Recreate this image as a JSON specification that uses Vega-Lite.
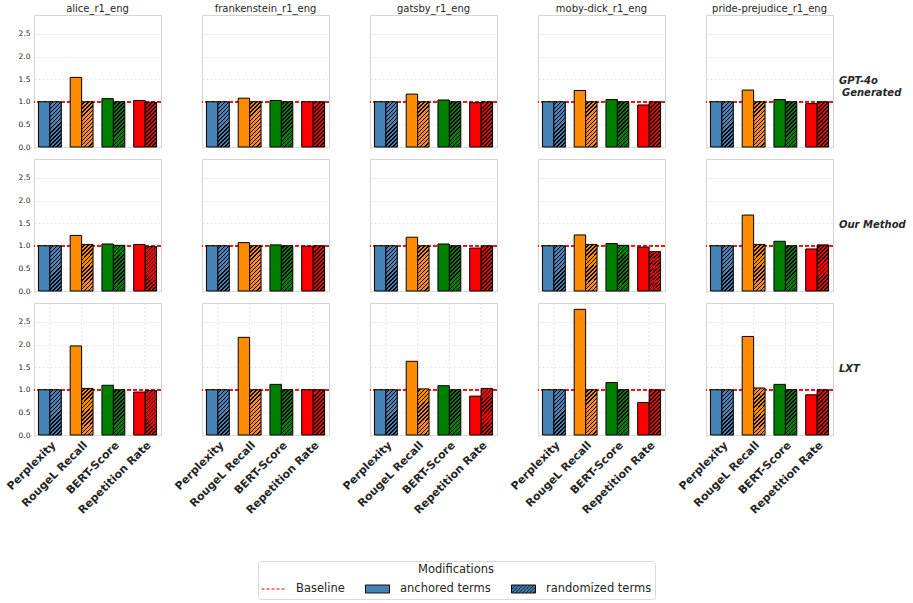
{
  "$schema": "https://vega.github.io/schema/vega-lite/v6.json",
  "padding": {"left": 4, "top": 3, "right": 5, "bottom": 3},
  "config": {
    "font": "DejaVu Sans",
    "view": {"stroke": "#d4d4d4", "strokeWidth": 1},
    "axis": {"labelColor": "#262626"},
    "axisY": {"tickCount": 6, "labelOverlap": false},
    "legend": {"symbolStrokeWidth": 1}
  },
  "data": {"values": [
    {"method": "GPT-4o Generated", "book": "alice_r1_eng", "metric": "Perplexity", "mod": "anchored terms", "value": 1.0},
    {"method": "GPT-4o Generated", "book": "alice_r1_eng", "metric": "Perplexity", "mod": "randomized terms", "value": 1.0},
    {"method": "GPT-4o Generated", "book": "alice_r1_eng", "metric": "RougeL Recall", "mod": "anchored terms", "value": 1.54},
    {"method": "GPT-4o Generated", "book": "alice_r1_eng", "metric": "RougeL Recall", "mod": "randomized terms", "value": 1.0},
    {"method": "GPT-4o Generated", "book": "alice_r1_eng", "metric": "BERT-Score", "mod": "anchored terms", "value": 1.07},
    {"method": "GPT-4o Generated", "book": "alice_r1_eng", "metric": "BERT-Score", "mod": "randomized terms", "value": 1.0},
    {"method": "GPT-4o Generated", "book": "alice_r1_eng", "metric": "Repetition Rate", "mod": "anchored terms", "value": 1.03},
    {"method": "GPT-4o Generated", "book": "alice_r1_eng", "metric": "Repetition Rate", "mod": "randomized terms", "value": 0.99},
    {"method": "GPT-4o Generated", "book": "frankenstein_r1_eng", "metric": "Perplexity", "mod": "anchored terms", "value": 1.0},
    {"method": "GPT-4o Generated", "book": "frankenstein_r1_eng", "metric": "Perplexity", "mod": "randomized terms", "value": 1.0},
    {"method": "GPT-4o Generated", "book": "frankenstein_r1_eng", "metric": "RougeL Recall", "mod": "anchored terms", "value": 1.08},
    {"method": "GPT-4o Generated", "book": "frankenstein_r1_eng", "metric": "RougeL Recall", "mod": "randomized terms", "value": 1.0},
    {"method": "GPT-4o Generated", "book": "frankenstein_r1_eng", "metric": "BERT-Score", "mod": "anchored terms", "value": 1.03},
    {"method": "GPT-4o Generated", "book": "frankenstein_r1_eng", "metric": "BERT-Score", "mod": "randomized terms", "value": 1.0},
    {"method": "GPT-4o Generated", "book": "frankenstein_r1_eng", "metric": "Repetition Rate", "mod": "anchored terms", "value": 1.0},
    {"method": "GPT-4o Generated", "book": "frankenstein_r1_eng", "metric": "Repetition Rate", "mod": "randomized terms", "value": 1.0},
    {"method": "GPT-4o Generated", "book": "gatsby_r1_eng", "metric": "Perplexity", "mod": "anchored terms", "value": 1.0},
    {"method": "GPT-4o Generated", "book": "gatsby_r1_eng", "metric": "Perplexity", "mod": "randomized terms", "value": 1.0},
    {"method": "GPT-4o Generated", "book": "gatsby_r1_eng", "metric": "RougeL Recall", "mod": "anchored terms", "value": 1.17},
    {"method": "GPT-4o Generated", "book": "gatsby_r1_eng", "metric": "RougeL Recall", "mod": "randomized terms", "value": 1.0},
    {"method": "GPT-4o Generated", "book": "gatsby_r1_eng", "metric": "BERT-Score", "mod": "anchored terms", "value": 1.04},
    {"method": "GPT-4o Generated", "book": "gatsby_r1_eng", "metric": "BERT-Score", "mod": "randomized terms", "value": 1.0},
    {"method": "GPT-4o Generated", "book": "gatsby_r1_eng", "metric": "Repetition Rate", "mod": "anchored terms", "value": 0.98},
    {"method": "GPT-4o Generated", "book": "gatsby_r1_eng", "metric": "Repetition Rate", "mod": "randomized terms", "value": 1.0},
    {"method": "GPT-4o Generated", "book": "moby-dick_r1_eng", "metric": "Perplexity", "mod": "anchored terms", "value": 1.0},
    {"method": "GPT-4o Generated", "book": "moby-dick_r1_eng", "metric": "Perplexity", "mod": "randomized terms", "value": 1.0},
    {"method": "GPT-4o Generated", "book": "moby-dick_r1_eng", "metric": "RougeL Recall", "mod": "anchored terms", "value": 1.25},
    {"method": "GPT-4o Generated", "book": "moby-dick_r1_eng", "metric": "RougeL Recall", "mod": "randomized terms", "value": 1.0},
    {"method": "GPT-4o Generated", "book": "moby-dick_r1_eng", "metric": "BERT-Score", "mod": "anchored terms", "value": 1.05},
    {"method": "GPT-4o Generated", "book": "moby-dick_r1_eng", "metric": "BERT-Score", "mod": "randomized terms", "value": 1.0},
    {"method": "GPT-4o Generated", "book": "moby-dick_r1_eng", "metric": "Repetition Rate", "mod": "anchored terms", "value": 0.93},
    {"method": "GPT-4o Generated", "book": "moby-dick_r1_eng", "metric": "Repetition Rate", "mod": "randomized terms", "value": 1.0},
    {"method": "GPT-4o Generated", "book": "pride-prejudice_r1_eng", "metric": "Perplexity", "mod": "anchored terms", "value": 1.0},
    {"method": "GPT-4o Generated", "book": "pride-prejudice_r1_eng", "metric": "Perplexity", "mod": "randomized terms", "value": 1.0},
    {"method": "GPT-4o Generated", "book": "pride-prejudice_r1_eng", "metric": "RougeL Recall", "mod": "anchored terms", "value": 1.26},
    {"method": "GPT-4o Generated", "book": "pride-prejudice_r1_eng", "metric": "RougeL Recall", "mod": "randomized terms", "value": 1.0},
    {"method": "GPT-4o Generated", "book": "pride-prejudice_r1_eng", "metric": "BERT-Score", "mod": "anchored terms", "value": 1.05},
    {"method": "GPT-4o Generated", "book": "pride-prejudice_r1_eng", "metric": "BERT-Score", "mod": "randomized terms", "value": 1.0},
    {"method": "GPT-4o Generated", "book": "pride-prejudice_r1_eng", "metric": "Repetition Rate", "mod": "anchored terms", "value": 0.96},
    {"method": "GPT-4o Generated", "book": "pride-prejudice_r1_eng", "metric": "Repetition Rate", "mod": "randomized terms", "value": 1.0},

    {"method": "Our Method", "book": "alice_r1_eng", "metric": "Perplexity", "mod": "anchored terms", "value": 1.0},
    {"method": "Our Method", "book": "alice_r1_eng", "metric": "Perplexity", "mod": "randomized terms", "value": 1.0},
    {"method": "Our Method", "book": "alice_r1_eng", "metric": "RougeL Recall", "mod": "anchored terms", "value": 1.23},
    {"method": "Our Method", "book": "alice_r1_eng", "metric": "RougeL Recall", "mod": "randomized terms", "value": 1.03},
    {"method": "Our Method", "book": "alice_r1_eng", "metric": "BERT-Score", "mod": "anchored terms", "value": 1.04},
    {"method": "Our Method", "book": "alice_r1_eng", "metric": "BERT-Score", "mod": "randomized terms", "value": 1.01},
    {"method": "Our Method", "book": "alice_r1_eng", "metric": "Repetition Rate", "mod": "anchored terms", "value": 1.03},
    {"method": "Our Method", "book": "alice_r1_eng", "metric": "Repetition Rate", "mod": "randomized terms", "value": 0.98},
    {"method": "Our Method", "book": "frankenstein_r1_eng", "metric": "Perplexity", "mod": "anchored terms", "value": 1.0},
    {"method": "Our Method", "book": "frankenstein_r1_eng", "metric": "Perplexity", "mod": "randomized terms", "value": 1.0},
    {"method": "Our Method", "book": "frankenstein_r1_eng", "metric": "RougeL Recall", "mod": "anchored terms", "value": 1.07},
    {"method": "Our Method", "book": "frankenstein_r1_eng", "metric": "RougeL Recall", "mod": "randomized terms", "value": 1.0},
    {"method": "Our Method", "book": "frankenstein_r1_eng", "metric": "BERT-Score", "mod": "anchored terms", "value": 1.02},
    {"method": "Our Method", "book": "frankenstein_r1_eng", "metric": "BERT-Score", "mod": "randomized terms", "value": 1.0},
    {"method": "Our Method", "book": "frankenstein_r1_eng", "metric": "Repetition Rate", "mod": "anchored terms", "value": 0.99},
    {"method": "Our Method", "book": "frankenstein_r1_eng", "metric": "Repetition Rate", "mod": "randomized terms", "value": 1.0},
    {"method": "Our Method", "book": "gatsby_r1_eng", "metric": "Perplexity", "mod": "anchored terms", "value": 1.0},
    {"method": "Our Method", "book": "gatsby_r1_eng", "metric": "Perplexity", "mod": "randomized terms", "value": 1.0},
    {"method": "Our Method", "book": "gatsby_r1_eng", "metric": "RougeL Recall", "mod": "anchored terms", "value": 1.19},
    {"method": "Our Method", "book": "gatsby_r1_eng", "metric": "RougeL Recall", "mod": "randomized terms", "value": 1.0},
    {"method": "Our Method", "book": "gatsby_r1_eng", "metric": "BERT-Score", "mod": "anchored terms", "value": 1.04},
    {"method": "Our Method", "book": "gatsby_r1_eng", "metric": "BERT-Score", "mod": "randomized terms", "value": 1.0},
    {"method": "Our Method", "book": "gatsby_r1_eng", "metric": "Repetition Rate", "mod": "anchored terms", "value": 0.95},
    {"method": "Our Method", "book": "gatsby_r1_eng", "metric": "Repetition Rate", "mod": "randomized terms", "value": 1.0},
    {"method": "Our Method", "book": "moby-dick_r1_eng", "metric": "Perplexity", "mod": "anchored terms", "value": 1.0},
    {"method": "Our Method", "book": "moby-dick_r1_eng", "metric": "Perplexity", "mod": "randomized terms", "value": 1.0},
    {"method": "Our Method", "book": "moby-dick_r1_eng", "metric": "RougeL Recall", "mod": "anchored terms", "value": 1.24},
    {"method": "Our Method", "book": "moby-dick_r1_eng", "metric": "RougeL Recall", "mod": "randomized terms", "value": 1.03},
    {"method": "Our Method", "book": "moby-dick_r1_eng", "metric": "BERT-Score", "mod": "anchored terms", "value": 1.05},
    {"method": "Our Method", "book": "moby-dick_r1_eng", "metric": "BERT-Score", "mod": "randomized terms", "value": 1.01},
    {"method": "Our Method", "book": "moby-dick_r1_eng", "metric": "Repetition Rate", "mod": "anchored terms", "value": 0.97},
    {"method": "Our Method", "book": "moby-dick_r1_eng", "metric": "Repetition Rate", "mod": "randomized terms", "value": 0.87},
    {"method": "Our Method", "book": "pride-prejudice_r1_eng", "metric": "Perplexity", "mod": "anchored terms", "value": 1.0},
    {"method": "Our Method", "book": "pride-prejudice_r1_eng", "metric": "Perplexity", "mod": "randomized terms", "value": 1.0},
    {"method": "Our Method", "book": "pride-prejudice_r1_eng", "metric": "RougeL Recall", "mod": "anchored terms", "value": 1.68},
    {"method": "Our Method", "book": "pride-prejudice_r1_eng", "metric": "RougeL Recall", "mod": "randomized terms", "value": 1.03},
    {"method": "Our Method", "book": "pride-prejudice_r1_eng", "metric": "BERT-Score", "mod": "anchored terms", "value": 1.1},
    {"method": "Our Method", "book": "pride-prejudice_r1_eng", "metric": "BERT-Score", "mod": "randomized terms", "value": 1.0},
    {"method": "Our Method", "book": "pride-prejudice_r1_eng", "metric": "Repetition Rate", "mod": "anchored terms", "value": 0.93},
    {"method": "Our Method", "book": "pride-prejudice_r1_eng", "metric": "Repetition Rate", "mod": "randomized terms", "value": 1.02},

    {"method": "LXT", "book": "alice_r1_eng", "metric": "Perplexity", "mod": "anchored terms", "value": 1.0},
    {"method": "LXT", "book": "alice_r1_eng", "metric": "Perplexity", "mod": "randomized terms", "value": 1.0},
    {"method": "LXT", "book": "alice_r1_eng", "metric": "RougeL Recall", "mod": "anchored terms", "value": 1.97},
    {"method": "LXT", "book": "alice_r1_eng", "metric": "RougeL Recall", "mod": "randomized terms", "value": 1.03},
    {"method": "LXT", "book": "alice_r1_eng", "metric": "BERT-Score", "mod": "anchored terms", "value": 1.1},
    {"method": "LXT", "book": "alice_r1_eng", "metric": "BERT-Score", "mod": "randomized terms", "value": 1.0},
    {"method": "LXT", "book": "alice_r1_eng", "metric": "Repetition Rate", "mod": "anchored terms", "value": 0.95},
    {"method": "LXT", "book": "alice_r1_eng", "metric": "Repetition Rate", "mod": "randomized terms", "value": 0.98},
    {"method": "LXT", "book": "frankenstein_r1_eng", "metric": "Perplexity", "mod": "anchored terms", "value": 1.0},
    {"method": "LXT", "book": "frankenstein_r1_eng", "metric": "Perplexity", "mod": "randomized terms", "value": 1.0},
    {"method": "LXT", "book": "frankenstein_r1_eng", "metric": "RougeL Recall", "mod": "anchored terms", "value": 2.16},
    {"method": "LXT", "book": "frankenstein_r1_eng", "metric": "RougeL Recall", "mod": "randomized terms", "value": 1.0},
    {"method": "LXT", "book": "frankenstein_r1_eng", "metric": "BERT-Score", "mod": "anchored terms", "value": 1.12},
    {"method": "LXT", "book": "frankenstein_r1_eng", "metric": "BERT-Score", "mod": "randomized terms", "value": 1.0},
    {"method": "LXT", "book": "frankenstein_r1_eng", "metric": "Repetition Rate", "mod": "anchored terms", "value": 1.0},
    {"method": "LXT", "book": "frankenstein_r1_eng", "metric": "Repetition Rate", "mod": "randomized terms", "value": 1.0},
    {"method": "LXT", "book": "gatsby_r1_eng", "metric": "Perplexity", "mod": "anchored terms", "value": 1.0},
    {"method": "LXT", "book": "gatsby_r1_eng", "metric": "Perplexity", "mod": "randomized terms", "value": 1.0},
    {"method": "LXT", "book": "gatsby_r1_eng", "metric": "RougeL Recall", "mod": "anchored terms", "value": 1.63},
    {"method": "LXT", "book": "gatsby_r1_eng", "metric": "RougeL Recall", "mod": "randomized terms", "value": 1.02},
    {"method": "LXT", "book": "gatsby_r1_eng", "metric": "BERT-Score", "mod": "anchored terms", "value": 1.09},
    {"method": "LXT", "book": "gatsby_r1_eng", "metric": "BERT-Score", "mod": "randomized terms", "value": 1.0},
    {"method": "LXT", "book": "gatsby_r1_eng", "metric": "Repetition Rate", "mod": "anchored terms", "value": 0.86},
    {"method": "LXT", "book": "gatsby_r1_eng", "metric": "Repetition Rate", "mod": "randomized terms", "value": 1.03},
    {"method": "LXT", "book": "moby-dick_r1_eng", "metric": "Perplexity", "mod": "anchored terms", "value": 1.0},
    {"method": "LXT", "book": "moby-dick_r1_eng", "metric": "Perplexity", "mod": "randomized terms", "value": 1.0},
    {"method": "LXT", "book": "moby-dick_r1_eng", "metric": "RougeL Recall", "mod": "anchored terms", "value": 2.78},
    {"method": "LXT", "book": "moby-dick_r1_eng", "metric": "RougeL Recall", "mod": "randomized terms", "value": 1.0},
    {"method": "LXT", "book": "moby-dick_r1_eng", "metric": "BERT-Score", "mod": "anchored terms", "value": 1.16},
    {"method": "LXT", "book": "moby-dick_r1_eng", "metric": "BERT-Score", "mod": "randomized terms", "value": 1.0},
    {"method": "LXT", "book": "moby-dick_r1_eng", "metric": "Repetition Rate", "mod": "anchored terms", "value": 0.72},
    {"method": "LXT", "book": "moby-dick_r1_eng", "metric": "Repetition Rate", "mod": "randomized terms", "value": 1.0},
    {"method": "LXT", "book": "pride-prejudice_r1_eng", "metric": "Perplexity", "mod": "anchored terms", "value": 1.0},
    {"method": "LXT", "book": "pride-prejudice_r1_eng", "metric": "Perplexity", "mod": "randomized terms", "value": 1.0},
    {"method": "LXT", "book": "pride-prejudice_r1_eng", "metric": "RougeL Recall", "mod": "anchored terms", "value": 2.18},
    {"method": "LXT", "book": "pride-prejudice_r1_eng", "metric": "RougeL Recall", "mod": "randomized terms", "value": 1.04},
    {"method": "LXT", "book": "pride-prejudice_r1_eng", "metric": "BERT-Score", "mod": "anchored terms", "value": 1.12},
    {"method": "LXT", "book": "pride-prejudice_r1_eng", "metric": "BERT-Score", "mod": "randomized terms", "value": 1.0},
    {"method": "LXT", "book": "pride-prejudice_r1_eng", "metric": "Repetition Rate", "mod": "anchored terms", "value": 0.89},
    {"method": "LXT", "book": "pride-prejudice_r1_eng", "metric": "Repetition Rate", "mod": "randomized terms", "value": 1.0}
  ]},
  "facet": {
    "row": {"field": "method", "type": "nominal", "sort": ["GPT-4o Generated", "Our Method", "LXT"],
      "header": {"title": null, "labelOrient": "right", "labelAngle": 0, "labelAlign": "right", "labelBaseline": "middle",
        "labelFontSize": 10, "labelFontWeight": "bold", "labelFontStyle": "italic", "labelColor": "#262626", "labelPadding": 6,
        "labelExpr": "datum.value == 'GPT-4o Generated' ? ['GPT-4o\u2800\u2800\u2800', 'Generated'] : datum.value"}},
    "column": {"field": "book", "type": "nominal",
      "header": {"title": null, "labelFontSize": 10, "labelColor": "#262626", "labelPadding": 1.5}}
  },
  "bounds": "flush",
  "spacing": {"row": 12, "column": 41},
  "spec": {
    "width": 127,
    "height": 132,
    "layer": [
      {
        "transform": [{"filter": "datum.method == 'LXT' && datum.mod == 'anchored terms'"}],
        "mark": {"type": "rule", "color": "#d8d8d8", "strokeDash": [2, 2], "strokeWidth": 0.8},
        "encoding": {
          "x": {"field": "metric", "type": "nominal", "sort": ["Perplexity", "RougeL Recall", "BERT-Score", "Repetition Rate"],
            "scale": {"paddingInner": 0.28, "paddingOuter": 0.14},
            "axis": {"title": null, "labelAngle": -45, "labelAlign": "right", "labelBaseline": "top", "labelFontSize": 11,
              "labelFontWeight": "bold", "labelColor": "#262626", "ticks": false, "domain": false, "grid": false, "labelPadding": 4}}
        }
      },
      {
        "mark": {"type": "rule", "color": "#ff0000", "strokeDash": [4, 2], "strokeWidth": 1, "opacity": 0.8},
        "encoding": {"y": {"datum": 1, "type": "quantitative",
          "axis": {"title": null, "values": [0, 0.5, 1, 1.5, 2, 2.5], "tickCount": 6, "format": ".1f", "labelFontSize": 7.5, "grid": true, "labelOverlap": false,
            "gridColor": "#dedede", "gridDash": [2, 2], "gridWidth": 0.8, "domain": false, "ticks": false, "labelPadding": 4}}}
      },
      {
        "mark": {"type": "bar", "stroke": "black", "strokeWidth": 1},
        "encoding": {
          "x": {"field": "metric", "type": "nominal", "sort": ["Perplexity", "RougeL Recall", "BERT-Score", "Repetition Rate"],
            "scale": {"paddingInner": 0.28, "paddingOuter": 0.14},
            "axis": {"title": null, "labelAngle": -45, "labelAlign": "right", "labelBaseline": "top", "labelFontSize": 11,
              "labelFontWeight": "bold", "labelColor": "#262626", "ticks": false, "domain": false, "grid": false, "labelPadding": 4}},
          "xOffset": {"field": "mod", "type": "nominal", "scale": {"domain": ["anchored terms", "randomized terms"], "paddingInner": 0, "paddingOuter": 0}},
          "y": {"field": "value", "type": "quantitative", "scale": {"domain": [0, 2.92], "nice": false, "zero": true},
            "axis": {"title": null, "values": [0, 0.5, 1, 1.5, 2, 2.5], "tickCount": 6, "format": ".1f", "labelFontSize": 7.5, "grid": true, "labelOverlap": false,
              "gridColor": "#dedede", "gridDash": [2, 2], "gridWidth": 0.8, "domain": false, "ticks": false, "labelPadding": 4}},
          "color": {"field": "metric", "type": "nominal", "legend": null,
            "scale": {"domain": ["Perplexity", "RougeL Recall", "BERT-Score", "Repetition Rate"], "range": ["#4682b4", "#ff8c00", "#008000", "#ff0000"]}}
        }
      },
      {
        "transform": [{"filter": "datum.mod == 'randomized terms'"}],
        "mark": {"type": "bar", "strokeWidth": 0,
          "fill": {"gradient": "linear", "x1": 0, "y1": 0, "x2": 0.298, "y2": 1.178, "stops": [
            {"offset": 0, "color": "rgba(0,0,0,0)"}, {"offset": 0.0429, "color": "rgba(0,0,0,0)"}, {"offset": 0.0429, "color": "#000000"}, {"offset": 0.0714, "color": "#000000"},
            {"offset": 0.0714, "color": "rgba(0,0,0,0)"}, {"offset": 0.1143, "color": "rgba(0,0,0,0)"}, {"offset": 0.1143, "color": "#000000"}, {"offset": 0.1429, "color": "#000000"},
            {"offset": 0.1429, "color": "rgba(0,0,0,0)"}, {"offset": 0.1857, "color": "rgba(0,0,0,0)"}, {"offset": 0.1857, "color": "#000000"}, {"offset": 0.2143, "color": "#000000"},
            {"offset": 0.2143, "color": "rgba(0,0,0,0)"}, {"offset": 0.2571, "color": "rgba(0,0,0,0)"}, {"offset": 0.2571, "color": "#000000"}, {"offset": 0.2857, "color": "#000000"},
            {"offset": 0.2857, "color": "rgba(0,0,0,0)"}, {"offset": 0.3286, "color": "rgba(0,0,0,0)"}, {"offset": 0.3286, "color": "#000000"}, {"offset": 0.3571, "color": "#000000"},
            {"offset": 0.3571, "color": "rgba(0,0,0,0)"}, {"offset": 0.4, "color": "rgba(0,0,0,0)"}, {"offset": 0.4, "color": "#000000"}, {"offset": 0.4286, "color": "#000000"},
            {"offset": 0.4286, "color": "rgba(0,0,0,0)"}, {"offset": 0.4714, "color": "rgba(0,0,0,0)"}, {"offset": 0.4714, "color": "#000000"}, {"offset": 0.5, "color": "#000000"},
            {"offset": 0.5, "color": "rgba(0,0,0,0)"}, {"offset": 0.5429, "color": "rgba(0,0,0,0)"}, {"offset": 0.5429, "color": "#000000"}, {"offset": 0.5714, "color": "#000000"},
            {"offset": 0.5714, "color": "rgba(0,0,0,0)"}, {"offset": 0.6143, "color": "rgba(0,0,0,0)"}, {"offset": 0.6143, "color": "#000000"}, {"offset": 0.6429, "color": "#000000"},
            {"offset": 0.6429, "color": "rgba(0,0,0,0)"}, {"offset": 0.6857, "color": "rgba(0,0,0,0)"}, {"offset": 0.6857, "color": "#000000"}, {"offset": 0.7143, "color": "#000000"},
            {"offset": 0.7143, "color": "rgba(0,0,0,0)"}, {"offset": 0.7571, "color": "rgba(0,0,0,0)"}, {"offset": 0.7571, "color": "#000000"}, {"offset": 0.7857, "color": "#000000"},
            {"offset": 0.7857, "color": "rgba(0,0,0,0)"}, {"offset": 0.8286, "color": "rgba(0,0,0,0)"}, {"offset": 0.8286, "color": "#000000"}, {"offset": 0.8571, "color": "#000000"},
            {"offset": 0.8571, "color": "rgba(0,0,0,0)"}, {"offset": 0.9, "color": "rgba(0,0,0,0)"}, {"offset": 0.9, "color": "#000000"}, {"offset": 0.9286, "color": "#000000"},
            {"offset": 0.9286, "color": "rgba(0,0,0,0)"}, {"offset": 0.9714, "color": "rgba(0,0,0,0)"}, {"offset": 0.9714, "color": "#000000"}, {"offset": 1, "color": "#000000"}
          ]}},
        "encoding": {
          "x": {"field": "metric", "type": "nominal", "sort": ["Perplexity", "RougeL Recall", "BERT-Score", "Repetition Rate"]},
          "xOffset": {"field": "mod", "type": "nominal"},
          "y": {"field": "value", "type": "quantitative"}
        }
      },
      {
        "mark": {"type": "point", "opacity": 0},
        "encoding": {
          "x": {"field": "metric", "type": "nominal", "sort": ["Perplexity", "RougeL Recall", "BERT-Score", "Repetition Rate"]},
          "xOffset": {"field": "mod", "type": "nominal"},
          "y": {"field": "value", "type": "quantitative"},
          "shape": {"field": "mod", "type": "nominal",
            "scale": {"domain": ["Baseline", "anchored terms", "randomized terms"], "range": ["M-1,0H3", "M-1,-0.67H3V0.67H-1Z",
              "M-1,-0.67H3V0.67H-1Z M-1,-0.53L-0.86,-0.67 M-1,0.07L-0.26,-0.67 M-1,0.67L0.34,-0.67 M-0.4,0.67L0.94,-0.67 M0.2,0.67L1.54,-0.67 M0.8,0.67L2.14,-0.67 M1.4,0.67L2.74,-0.67 M2,0.67L3,-0.33 M2.6,0.67L3,0.27"]},
            "legend": {"title": "Modifications", "orient": "none", "legendX": 224, "legendY": 546, "direction": "horizontal", "columns": 3,
              "gridAlign": "none", "titleAnchor": "middle", "titleFontSize": 11.5, "titleFontWeight": "normal", "titleColor": "#262626",
              "titlePadding": 7, "labelFontSize": 11.5, "labelColor": "#262626", "labelOffset": 22, "columnPadding": 18,
              "symbolSize": 144, "symbolStrokeWidth": 1, "symbolOpacity": 1, "strokeColor": "#d9d9d9", "padding": 3, "cornerRadius": 3, "fillColor": "white"}},
          "fill": {"field": "mod", "type": "nominal",
            "scale": {"domain": ["Baseline", "anchored terms", "randomized terms"], "range": ["transparent", "#4682b4", "#4682b4"]},
            "legend": {"title": "Modifications", "orient": "none", "legendX": 224, "legendY": 546, "direction": "horizontal", "columns": 3,
              "gridAlign": "none", "titleAnchor": "middle", "titleFontSize": 11.5, "titleFontWeight": "normal", "titleColor": "#262626",
              "titlePadding": 7, "labelFontSize": 11.5, "labelColor": "#262626", "labelOffset": 22, "columnPadding": 18,
              "symbolSize": 144, "symbolStrokeWidth": 1, "symbolOpacity": 1, "strokeColor": "#d9d9d9", "padding": 3, "cornerRadius": 3, "fillColor": "white"}},
          "stroke": {"field": "mod", "type": "nominal",
            "scale": {"domain": ["Baseline", "anchored terms", "randomized terms"], "range": ["#ff0000", "#000000", "#000000"]},
            "legend": {"title": "Modifications", "orient": "none", "legendX": 224, "legendY": 546, "direction": "horizontal", "columns": 3,
              "gridAlign": "none", "titleAnchor": "middle", "titleFontSize": 11.5, "titleFontWeight": "normal", "titleColor": "#262626",
              "titlePadding": 7, "labelFontSize": 11.5, "labelColor": "#262626", "labelOffset": 22, "columnPadding": 18,
              "symbolSize": 144, "symbolStrokeWidth": 1, "symbolOpacity": 1, "strokeColor": "#d9d9d9", "padding": 3, "cornerRadius": 3, "fillColor": "white"}},
          "strokeDash": {"field": "mod", "type": "nominal",
            "scale": {"domain": ["Baseline", "anchored terms", "randomized terms"], "range": [[3, 2], [1, 0], [1, 0]]},
            "legend": {"title": "Modifications", "orient": "none", "legendX": 224, "legendY": 546, "direction": "horizontal", "columns": 3,
              "gridAlign": "none", "titleAnchor": "middle", "titleFontSize": 11.5, "titleFontWeight": "normal", "titleColor": "#262626",
              "titlePadding": 7, "labelFontSize": 11.5, "labelColor": "#262626", "labelOffset": 22, "columnPadding": 18,
              "symbolSize": 144, "symbolStrokeWidth": 1, "symbolOpacity": 1, "strokeColor": "#d9d9d9", "padding": 3, "cornerRadius": 3, "fillColor": "white"}}
        }
      }
    ]
  }
}
